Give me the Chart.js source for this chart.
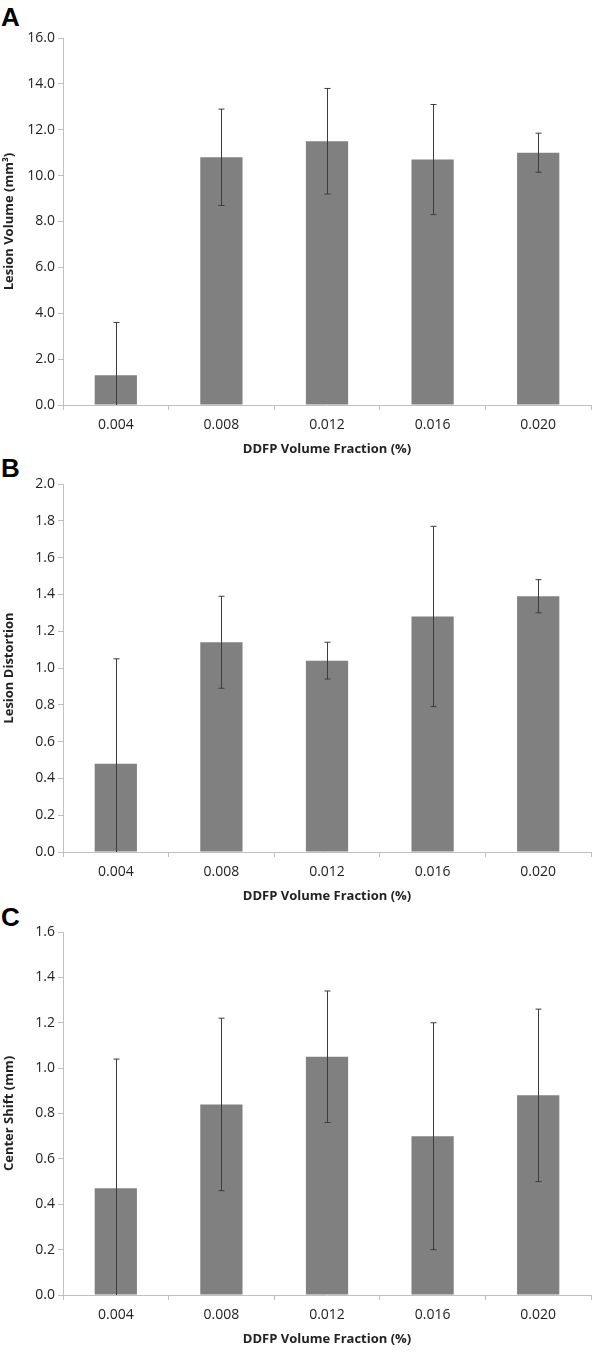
<!DOCTYPE html>
<html>
<head>
<meta charset="utf-8">
<script src="https://cdn.jsdelivr.net/npm/chart.js@4"></script>
<style>
  body { margin: 0; background: #fff; width: 600px; height: 1352px; position: relative; overflow: hidden; }
  .panel { position: absolute; left: 0; width: 600px; }
  .letter { position: absolute; left: 1px; font: bold 26px "Liberation Sans", Arial, sans-serif; line-height: 1; color: #000; }
</style>
</head>
<body>
<div class="letter" style="top:4px">A</div>
<div class="letter" style="top:455px">B</div>
<div class="letter" style="top:904px">C</div>
<div class="panel" style="top:0px;height:462px"><canvas id="chartA"></canvas></div>
<div class="panel" style="top:462px;height:448px"><canvas id="chartB"></canvas></div>
<div class="panel" style="top:910px;height:442px"><canvas id="chartC"></canvas></div>
<script>
// DDFP volume fractions (x categories)
const categories = ['0.004', '0.008', '0.012', '0.016', '0.020'];

// A: lesion volume (mm3) and its error
const lesionVolume = [1.3, 10.8, 11.5, 10.7, 11.0];
const lesionVolumeErr = [2.3, 2.1, 2.3, 2.4, 0.85];

// B: lesion distortion
const lesionDistortion = [0.48, 1.14, 1.04, 1.28, 1.39];
const lesionDistortionErr = [0.57, 0.25, 0.10, 0.49, 0.09];

// C: center shift (mm)
const centerShift = [0.47, 0.84, 1.05, 0.70, 0.88];
const centerShiftErr = [0.57, 0.38, 0.29, 0.50, 0.38];

const axisColor = '#c0c0c0';
const textColor = '#222222';
const barColor = '#808080';
const errColor = '#3c3c3c';

// draws the error bars on top of the bars
const errorBarPlugin = {
    id: 'errorBars',
    afterDatasetsDraw(chart, args, opts) {
        const ctx = chart.ctx;
        const yScale = chart.scales.y;
        const meta = chart.getDatasetMeta(0);
        const values = chart.data.datasets[0].data;
        ctx.save();
        ctx.strokeStyle = errColor;
        ctx.lineWidth = 1;
        meta.data.forEach(function(bar, i) {
            const v = values[i];
            const e = opts.errors[i];
            const hi = v + e;
            const lo = Math.max(v - e, yScale.min);
            const x = Math.round(bar.x) + 0.5;
            const yHi = yScale.getPixelForValue(hi);
            const yLo = yScale.getPixelForValue(lo);
            ctx.beginPath();
            ctx.moveTo(x, yHi);
            ctx.lineTo(x, yLo);
            ctx.moveTo(x - 3, yHi);
            ctx.lineTo(x + 3, yHi);
            if (v - e > yScale.min) {
                ctx.moveTo(x - 3, yLo);
                ctx.lineTo(x + 3, yLo);
            }
            ctx.stroke();
        });
        ctx.restore();
    }
};

function makeChart(id, values, errors, yTitle, yMax, step, padTop, padBottom) {
    const ctx = document.getElementById(id).getContext('2d');
    return new Chart(ctx, {
        type: 'bar',
        data: {
            labels: categories,
            datasets: [{
                data: values,
                backgroundColor: barColor,
                borderWidth: 0,
                barPercentage: 0.4,
                categoryPercentage: 1.0
            }]
        },
        options: {
            responsive: true,
            maintainAspectRatio: false,
            animation: false,
            layout: { padding: { top: padTop, bottom: padBottom, left: 0, right: 9 } },
            plugins: {
                legend: { display: false },
                tooltip: { enabled: false },
                errorBars: { errors: errors }
            },
            scales: {
                x: {
                    afterFit: function(scale) { scale.height = 57; },
                    grid: {
                        display: true,
                        drawOnChartArea: false,
                        offset: true,
                        color: axisColor,
                        tickLength: 5,
                        tickColor: axisColor
                    },
                    border: { color: axisColor, width: 1 },
                    ticks: {
                        color: textColor,
                        padding: 7,
                        font: { family: 'Open Sans', size: 14 }
                    },
                    title: {
                        display: true,
                        text: 'DDFP Volume Fraction (%)',
                        color: textColor,
                        padding: { top: 0, bottom: 5 },
                        font: { family: 'Open Sans', size: 13, weight: 'bold' }
                    }
                },
                y: {
                    min: 0,
                    max: yMax,
                    afterFit: function(scale) { scale.width = 63; },
                    grid: {
                        display: true,
                        drawOnChartArea: false,
                        color: axisColor,
                        tickLength: 5,
                        tickColor: axisColor
                    },
                    border: { color: axisColor, width: 1 },
                    ticks: {
                        stepSize: step,
                        color: textColor,
                        padding: 3,
                        font: { family: 'Open Sans', size: 14 },
                        callback: function(v) { return v.toFixed(1); }
                    },
                    title: {
                        display: true,
                        text: yTitle,
                        color: textColor,
                        padding: { top: 1, bottom: 0 },
                        font: { family: 'Open Sans', size: 13, weight: 'bold' }
                    }
                }
            }
        },
        plugins: [errorBarPlugin]
    });
}

makeChart('chartA', lesionVolume, lesionVolumeErr, 'Lesion Volume (mm³)', 16, 2, 38, 0);
makeChart('chartB', lesionDistortion, lesionDistortionErr, 'Lesion Distortion', 2, 0.2, 22, 1);
makeChart('chartC', centerShift, centerShiftErr, 'Center Shift (mm)', 1.6, 0.2, 22, 0);
</script>
</body>
</html>
